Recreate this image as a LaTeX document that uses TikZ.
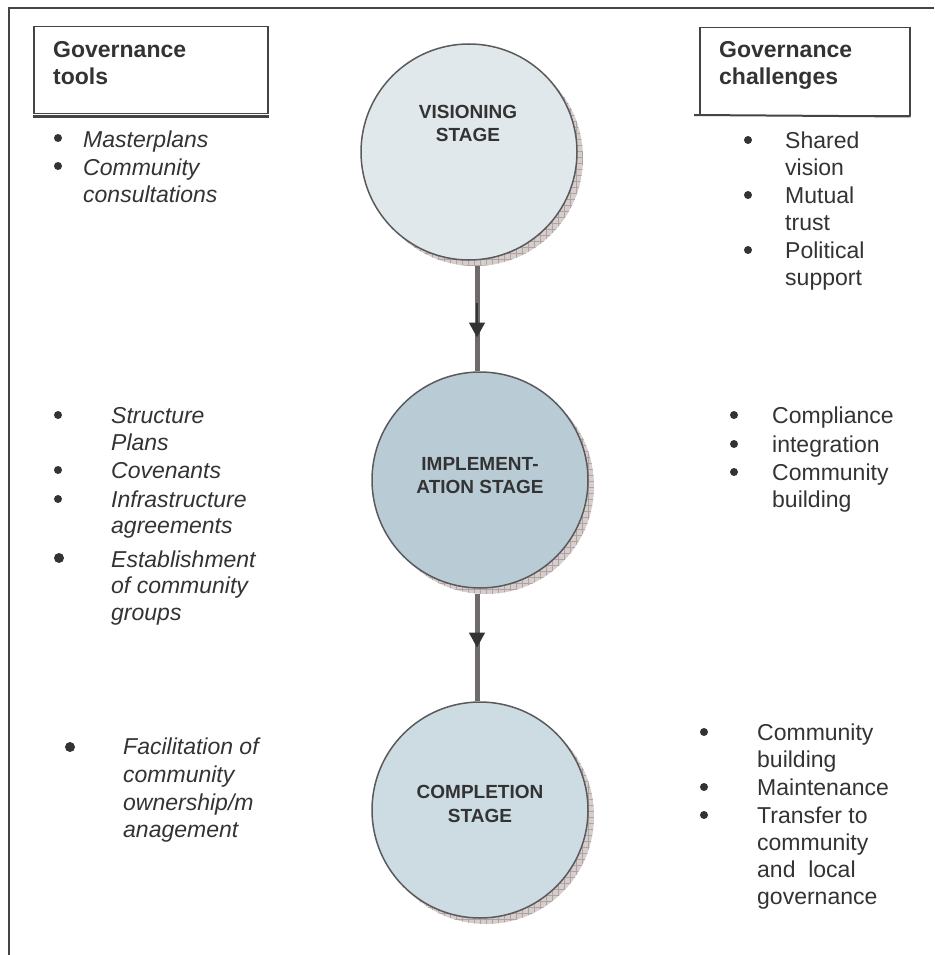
\documentclass[tikz,border=0pt]{standalone}
\usepackage{fontspec}
\setmainfont{Liberation Sans}
\usetikzlibrary{decorations.markings,arrows.meta,patterns.meta}
\definecolor{txt}{HTML}{333333}
\definecolor{frame}{HTML}{444444}
\definecolor{cline}{HTML}{5A5A5A}
\definecolor{fillA}{HTML}{E0E8EC}
\definecolor{fillB}{HTML}{B9CCD6}
\definecolor{fillC}{HTML}{CDDBE3}
\definecolor{shfill}{HTML}{D6CDCD}
\definecolor{shline}{HTML}{AFA3A3}
\definecolor{connc}{HTML}{6E6A6A}
\begin{document}
\begin{tikzpicture}[x=1pt,y=-1pt,
  stagecircle/.style={circle,draw=cline,line width=1.5pt,minimum size=216pt,inner sep=0pt},
  stageshadow/.style={circle,minimum size=216pt,inner sep=0pt,preaction={fill=shfill},
     pattern={Hatch[distance=6pt,angle=0,line width=0.6pt]},pattern color=shline},
  stagetxt/.style={font=\bfseries\fontsize{19}{23}\selectfont,text=txt,anchor=base,inner sep=0pt},
  hdrbox/.style={draw=frame,line width=1.5pt,anchor=north west,inner sep=0pt},
  hdr/.style={font=\bfseries\fontsize{23}{27}\selectfont,text=txt,anchor=base west,inner sep=0pt},
  itl/.style={font=\itshape\fontsize{23}{27}\selectfont,text=txt,anchor=base west,inner sep=0pt},
  rgl/.style={font=\fontsize{23}{27}\selectfont,text=txt,anchor=base west,inner sep=0pt},
  bul/.style={circle,fill=txt,inner sep=0pt,minimum size=8pt},
  bigbul/.style={circle,fill=txt,inner sep=0pt,minimum size=10pt},
  conn/.style={draw=connc,line width=5pt},
  tipmark/.style={postaction={decorate},decoration={markings,
     mark=at position #1 with {\arrow[txt]{Triangle[width=15pt,length=15pt]}}}}
]
\useasboundingbox (0,0) rectangle (934,955);

% outer frame (open to the right and bottom)
\coordinate (ftl) at (8.5,8.5);
\coordinate (ftr) at (934,8.5);
\coordinate (fbl) at (8.5,955);
\draw[frame,line width=2pt] (ftr) -- (ftl) -- (fbl);

% header boxes
\node[hdrbox,minimum width=234pt,minimum height=87pt] (hL) at (33,26) {};
\draw[frame,line width=3pt] ([yshift=-2pt]hL.south west) -- ([yshift=-2pt]hL.south east);
\node[hdr] (hLa) at (53,58) {Governance};
\node[hdr] (hLb) at (53,85) {tools};

\node[hdrbox,minimum width=210pt,minimum height=88pt] (hR) at (699,27) {};
\coordinate (hRx) at (694,115);
\draw[frame,line width=2pt] (hRx) -- (hR.south east);
\node[hdr] (hRa) at (719,58) {Governance};
\node[hdr] (hRb) at (719,85) {challenges};

% stage circles with shadows
\node[stageshadow] (s1) at (475,158) {};
\node[stagecircle,fill=fillA] (c1) at (469,152) {};
\node[stagetxt] (t1a) at (468,118) {VISIONING};
\node[stagetxt] (t1b) at (468,141) {STAGE};

\node[stageshadow] (s2) at (486,486) {};
\node[stagecircle,fill=fillB] (c2) at (480,480) {};
\node[stagetxt] (t2a) at (480,470) {IMPLEMENT-};
\node[stagetxt] (t2b) at (480,493) {ATION STAGE};

\node[stageshadow] (s3) at (486,816) {};
\node[stagecircle,fill=fillC] (c3) at (480,810) {};
\node[stagetxt] (t3a) at (480,798) {COMPLETION};
\node[stagetxt] (t3b) at (480,822) {STAGE};

% connectors
\coordinate (a1e) at ([xshift=-3pt]c2.north);
\coordinate (a2e) at ([xshift=-3pt]c3.north);
\draw[conn,tipmark=0.68] (s1.south -| a1e) -- (a1e);
\coordinate (a1m) at (477,303);
\coordinate (a1n) at (477,325);
\draw[txt,line width=1.5pt] (a1m) -- (a1n);
\draw[conn,tipmark=0.5] (s2.south -| a2e) -- (a2e);

% left lists
\node[bul] (bL1) at (58,138) {};
\node[itl] (L1) at (83,147) {Masterplans};
\node[bul] (bL2) at (58,166) {};
\node[itl] (L2a) at (83,175) {Community};
\node[itl] (L2b) at (83,202) {consultations};

\node[bul] (bM1) at (58,415) {};
\node[itl] (M1a) at (111,423) {Structure};
\node[itl] (M1b) at (111,450) {Plans};
\node[bul] (bM2) at (58,470) {};
\node[itl] (M2) at (111,478) {Covenants};
\node[bul] (bM3) at (58,499) {};
\node[itl] (M3a) at (111,507) {Infrastructure};
\node[itl] (M3b) at (111,533) {agreements};
\node[bigbul] (bM4) at (59,558) {};
\node[itl] (M4a) at (111,567) {Establishment};
\node[itl] (M4b) at (111,593) {of community};
\node[itl] (M4c) at (111,620) {groups};

\node[bigbul] (bB1) at (70,747) {};
\node[itl] (B1a) at (123,754) {Facilitation of};
\node[itl] (B1b) at (123,782) {community};
\node[itl] (B1c) at (123,810) {ownership/m};
\node[itl] (B1d) at (123,837) {anagement};

% right lists
\node[bul] (bR1) at (748,140) {};
\node[rgl] (R1a) at (785,148) {Shared};
\node[rgl] (R1b) at (785,175) {vision};
\node[bul] (bR2) at (748,195) {};
\node[rgl] (R2a) at (785,203) {Mutual};
\node[rgl] (R2b) at (785,230) {trust};
\node[bul] (bR3) at (748,250) {};
\node[rgl] (R3a) at (785,258) {Political};
\node[rgl] (R3b) at (785,285) {support};

\node[bul] (bS1) at (734,415) {};
\node[rgl] (S1) at (772,423) {Compliance};
\node[bul] (bS2) at (734,444) {};
\node[rgl] (S2) at (772,452) {integration};
\node[bul] (bS3) at (734,472) {};
\node[rgl] (S3a) at (772,480) {Community};
\node[rgl] (S3b) at (772,507) {building};

\node[bul] (bT1) at (704,732) {};
\node[rgl] (T1a) at (757,740) {Community};
\node[rgl] (T1b) at (757,767) {building};
\node[bul] (bT2) at (704,787) {};
\node[rgl] (T2) at (757,795) {Maintenance};
\node[bul] (bT3) at (704,815) {};
\node[rgl] (T3a) at (757,823) {Transfer to};
\node[rgl] (T3b) at (757,850) {community};
\node[rgl] (T3c) at (757,877) {and\ \ local};
\node[rgl] (T3d) at (757,904) {governance};
\end{tikzpicture}
\end{document}
